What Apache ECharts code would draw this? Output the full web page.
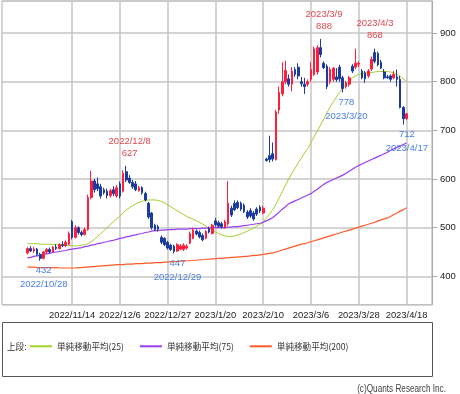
<!DOCTYPE html>
<html><head><meta charset="utf-8">
<script src="https://cdn.jsdelivr.net/npm/echarts@6/dist/echarts.min.js"></script>
<style>html,body{margin:0;padding:0;background:#fff}#c{width:460px;height:394px}</style>
</head><body><div id="c"></div>
<script>
// Trading days shown (2022/10/24 - 2023/4/18)
const dates = ["2022/10/24","2022/10/25","2022/10/26","2022/10/27","2022/10/28","2022/10/31","2022/11/1","2022/11/2","2022/11/4","2022/11/7","2022/11/8","2022/11/9","2022/11/10","2022/11/11","2022/11/14","2022/11/15","2022/11/16","2022/11/17","2022/11/18","2022/11/21","2022/11/22","2022/11/24","2022/11/25","2022/11/28","2022/11/29","2022/11/30","2022/12/1","2022/12/2","2022/12/5","2022/12/6","2022/12/7","2022/12/8","2022/12/9","2022/12/12","2022/12/13","2022/12/14","2022/12/15","2022/12/16","2022/12/19","2022/12/20","2022/12/21","2022/12/22","2022/12/23","2022/12/26","2022/12/27","2022/12/28","2022/12/29","2022/12/30","2023/1/4","2023/1/5","2023/1/6","2023/1/10","2023/1/11","2023/1/12","2023/1/13","2023/1/16","2023/1/17","2023/1/18","2023/1/19","2023/1/20","2023/1/23","2023/1/24","2023/1/25","2023/1/26","2023/1/27","2023/1/30","2023/1/31","2023/2/1","2023/2/2","2023/2/3","2023/2/6","2023/2/7","2023/2/8","2023/2/9","2023/2/10","2023/2/13","2023/2/14","2023/2/15","2023/2/16","2023/2/17","2023/2/20","2023/2/21","2023/2/22","2023/2/24","2023/2/27","2023/2/28","2023/3/1","2023/3/2","2023/3/3","2023/3/6","2023/3/7","2023/3/8","2023/3/9","2023/3/10","2023/3/13","2023/3/14","2023/3/15","2023/3/16","2023/3/17","2023/3/20","2023/3/22","2023/3/23","2023/3/24","2023/3/27","2023/3/28","2023/3/29","2023/3/30","2023/3/31","2023/4/3","2023/4/4","2023/4/5","2023/4/6","2023/4/7","2023/4/10","2023/4/11","2023/4/12","2023/4/13","2023/4/14","2023/4/17","2023/4/18"];
const openP  = [448,457,452,456,445,437,450,455,450,460,457,465,463,466,512,480,500,490,486,496,562,596,590,584,578,575,566,578,565,590,575,615,602,593,590,576,582,570,550,530,505,502,480,478,470,464,462,452,456,455,458,468,478,493,490,484,478,498,488,514,510,508,500,508,540,550,552,550,546,532,535,530,538,542,530,641,648,652,640,742,775,800,806,795,825,830,800,795,795,805,815,820,870,838,832,800,805,810,830,808,790,795,832,830,836,822,818,812,826,860,858,840,820,810,812,808,810,805,747,724];
const highP  = [460,462,460,458,448,452,458,459,462,466,468,472,474,492,516,505,503,494,500,568,617,600,603,590,582,580,580,585,588,595,618,627,608,598,596,586,585,574,553,532,508,506,484,480,473,467,465,468,466,468,466,492,500,496,494,488,495,502,508,520,514,512,516,596,545,556,556,554,550,536,540,534,542,546,545,644,689,675,742,790,840,843,815,830,830,838,810,808,805,840,872,875,888,842,836,830,830,828,835,812,802,812,836,868,842,826,822,826,852,868,862,845,826,814,815,822,825,812,750,736];
const lowP   = [445,450,448,442,432,435,446,447,448,454,455,460,460,464,476,478,486,482,484,494,558,572,575,560,568,560,562,565,562,560,572,594,590,580,575,574,568,554,518,496,493,492,466,462,455,452,447,450,454,452,455,466,476,484,478,472,476,488,486,502,500,498,498,504,522,534,538,534,530,518,520,514,524,530,528,636,634,636,638,734,770,795,790,780,810,805,790,775,790,800,812,815,850,826,785,795,800,800,800,778,786,790,818,826,830,805,798,808,822,838,832,826,805,806,800,805,790,745,712,722];
const closeP = [457,452,456,445,437,450,455,450,460,457,465,463,470,488,480,500,490,486,496,562,596,578,580,565,572,566,576,570,582,565,612,598,593,584,578,582,572,557,522,500,496,497,470,465,458,455,451,465,462,464,462,488,495,487,481,475,492,491,505,506,503,502,512,550,526,537,541,538,533,522,524,518,528,534,540,638,640,641,738,778,800,823,795,822,815,812,796,790,800,825,868,870,856,829,790,825,828,804,806,786,798,808,822,838,838,808,806,822,846,842,835,828,808,808,805,815,805,747,724,734];
const ma25  = [467,467,467,467,466,466,466,466,465,465,465,464,464,463,463,462,463,464,465,467,471,476,482,488,494,500,506,512,518,524,530,536,541,545,549,552,554,556,557,557,557,556,554,551,547,543,539,535,531,527,523,520,517,514,511,507,503,499,495,491,488,485,483,482,482,483,485,487,490,493,496,499,503,507,511,520,528,537,548,561,574,587,600,612,622,633,643,653,663,675,687,699,711,723,736,748,759,769,778,787,795,802,808,812,815,817,818,819,819,820,821,821,821,821,820,818,815,811,806,801];
const ma75  = [438,439,441,442,443,445,446,447,449,450,451,452,453,455,456,457,458,459,461,462,464,465,467,468,470,471,473,474,476,478,479,481,482,484,485,487,488,490,491,493,494,494,495,495,496,496,496,497,497,497,497,498,498,498,498,499,499,499,500,500,500,500,500,501,501,502,502,503,504,505,506,507,508,509,511,514,517,521,526,532,538,543,549,552,555,558,561,564,567,570,575,579,584,589,593,596,599,602,605,608,612,616,620,624,628,631,634,637,640,643,646,649,652,655,659,662,665,668,671,674];
const ma200 = [419,419,419,418,418,418,418,418,418,418,417,417,417,417,417,417,418,418,419,419,420,420,421,421,422,422,423,423,424,424,424,425,425,425,426,426,426,427,427,427,428,428,428,429,429,430,430,430,431,431,432,432,433,433,434,434,435,435,436,436,437,437,438,438,439,439,440,440,441,441,442,443,443,444,445,446,447,448,450,452,454,456,458,460,462,464,466,467,469,471,473,475,477,479,481,483,485,487,489,491,493,495,497,499,501,503,505,507,509,511,514,516,518,520,523,527,530,534,537,541];
const tickDates = ["2022/11/14","2022/12/6","2022/12/27","2023/1/20","2023/2/10","2023/3/6","2023/3/28","2023/4/18"];
const highNotes = [["2022/12/8",627],["2023/3/9",888],["2023/4/3",868]];
const lowNotes  = [["2022/10/28",432],["2022/12/29",447],["2023/3/20",778],["2023/4/17",712]];
const seriesNames = ["単純移動平均(25)","単純移動平均(75)","単純移動平均(200)"];

const PADL = 8, PADR = 8;
const cats = [];
for (let i = PADL; i > 0; i--) cats.push("L" + i);
dates.forEach(d => cats.push(d));
for (let i = 1; i <= PADR; i++) cats.push("R" + i);
const pad = (arr) => Array(PADL).fill('-').concat(arr, Array(PADR).fill('-'));
const candle = pad(dates.map((d, i) => [openP[i], closeP[i], lowP[i], highP[i]]));
const tickSet = new Set(tickDates);
const sans = '"Liberation Sans",Arial,sans-serif';
const cjk = '"Noto Sans CJK JP","Noto Sans",sans-serif';
const RED = '#e5474f', BLUE = '#4a7de6';

const chart = echarts.init(document.getElementById('c'), null, {renderer: 'canvas'});
chart.setOption({
  animation: false,
  backgroundColor: '#fff',
  grid: {left: 2, top: 1, width: 430, height: 303.5, show: true, borderColor: '#aaa', borderWidth: 1},
  xAxis: {
    type: 'category', data: cats, boundaryGap: false,
    axisLine: {show: false}, axisTick: {show: false},
    axisLabel: {interval: (idx, v) => tickSet.has(v), hideOverlap: false, color: '#222', fontSize: 9.4, fontFamily: sans, margin: 6},
    splitLine: {show: true, interval: (idx, v) => tickSet.has(v), lineStyle: {color: '#c6c6c6', width: 1.5}}
  },
  yAxis: {
    type: 'value', position: 'right', min: 342, max: 966, scale: true,
    axisLine: {show: true, lineStyle: {color: '#aaa'}},
    axisTick: {show: true, length: 5, lineStyle: {color: '#aaa'}},
    axisLabel: {showMinLabel: false, showMaxLabel: false, color: '#222', fontSize: 9.5, fontFamily: sans, margin: 8},
    splitLine: {show: true, lineStyle: {color: '#c6c6c6', width: 1.5}}
  },
  legend: {
    left: 30, top: 342, padding: 0, itemWidth: 22, itemHeight: 2, itemGap: 16, icon: 'rect',
    data: seriesNames, textStyle: {fontSize: 8.6, fontFamily: cjk, color: '#333'}
  },
  series: [
    {name: seriesNames[0], type: 'line', data: pad(ma25), symbol: 'none', lineStyle: {color: '#a2d12a', width: 1}, itemStyle: {color: '#a2d12a'}, z: 3},
    {name: seriesNames[1], type: 'line', data: pad(ma75), symbol: 'none', lineStyle: {color: '#9a3cf2', width: 1.2}, itemStyle: {color: '#9a3cf2'}, z: 3},
    {name: seriesNames[2], type: 'line', data: pad(ma200), symbol: 'none', lineStyle: {color: '#ff5a28', width: 1.2}, itemStyle: {color: '#ff5a28'}, z: 3},
    {
      type: 'candlestick', data: candle, barWidth: 2.2, z: 4,
      itemStyle: {color: '#ff1f3d', color0: '#1b3c9e', borderColor: '#ff1f3d', borderColor0: '#1b3c9e', borderWidth: 1},
      markPoint: {
        symbol: 'circle', symbolSize: 0, animation: false,
        data: highNotes.map(([d, v]) => ({coord: [d, v], label: {show: true, position: 'top', distance: 7, offset: [3.5, 0], color: RED, fontSize: 9.5, lineHeight: 12, fontFamily: sans, formatter: d + '\n' + v}}))
          .concat(lowNotes.map(([d, v]) => ({coord: [d, v], label: {show: true, position: 'bottom', distance: 3, offset: [3.5, 0], color: BLUE, fontSize: 9.5, lineHeight: 14, fontFamily: sans, formatter: v + '\n' + d}})))
      }
    }
  ],
  graphic: [
    {type: 'rect', shape: {x: 2.5, y: 322.5, width: 430, height: 54}, style: {fill: 'none', stroke: '#555', lineWidth: 1}},
    {type: 'text', x: 7, y: 347, style: {text: '上段:', fontSize: 8.6, fontFamily: cjk, fill: '#333', verticalAlign: 'middle'}},
    {type: 'text', x: 446, y: 389, scaleX: 0.82, style: {text: '(c)Quants Research Inc.', fontSize: 10, fontFamily: sans, fill: '#444', align: 'right', verticalAlign: 'middle'}}
  ]
});
</script></body></html>
